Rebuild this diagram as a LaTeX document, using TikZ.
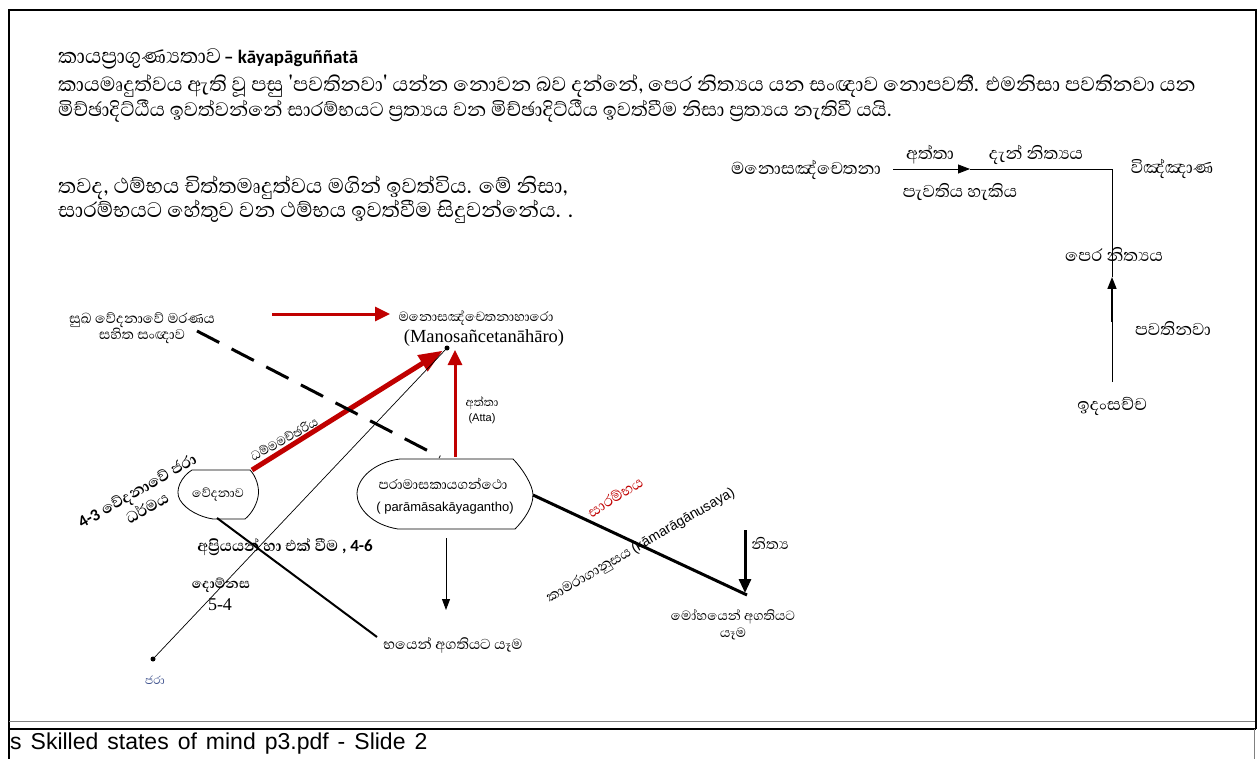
\documentclass[tikz,border=0pt]{standalone}
\usepackage{fontspec}
\setmainfont{Liberation Sans}
\newfontfamily\sinfont[Script=Sinhala]{Abhaya Libre}
\newfontfamily\calib{Carlito}
\newfontfamily\tms{Liberation Serif}
\usetikzlibrary{arrows.meta}
\definecolor{dred}{RGB}{192,0,0}
\definecolor{jblue}{RGB}{60,80,140}
\newcommand{\sz}[2]{\fontsize{#1}{#2}\selectfont}
\tikzset{
  every node/.style={inner sep=0pt},
  para/.style={anchor=west,font=\sinfont\sz{26}{30}},
  lbl/.style={font=\sinfont\sz{22}{26}},
  slbl/.style={font=\sinfont\sz{18}{15},align=center},
  blbl/.style={font=\sinfont\bfseries\sz{20}{20},align=center},
  redarrow/.style={dred,line width=3pt,-{Triangle[length=15pt,width=14pt]}},
  dotnode/.style={circle,fill=black,minimum size=5pt},
}
\begin{document}
\begin{tikzpicture}[x=1pt,y=-1pt]
\useasboundingbox (0,0) rectangle (1258,759);
% frame
\draw[line width=2pt] (8.5,759) -- (8.5,10.5) -- (1255.5,10.5) -- (1255.5,729);
\draw[gray,line width=1pt] (9,721) -- (1255,721);
\draw[line width=2pt] (8,729) -- (1256,729);
\draw[gray,line width=1pt] (1254,729) -- (1254,759);
\node[anchor=west,font=\sz{23}{26}] (foot) at (10,744) {\spaceskip=9pt s Skilled states of mind p3.pdf - Slide 2};

% title and paragraphs
\node[anchor=west] (title) at (58,59) {{\sinfont\sz{27}{30}කායප්‍රාගුණ්‍යතාව} {\calib\bfseries\sz{19}{22}– kāyapāguññatā}};
\node[para] (p1) at (58,86) {කායමෘදුත්වය ඇති වූ පසු 'පවතිනවා' යන්න නොවන බව දන්නේ, පෙර නිත්‍යය යන සංඥාව නොපවතී. එමනිසා පවතිනවා යන};
\node[para,font=\sinfont\sz{25}{30}] (p2) at (58,111) {මිච්ඡාදිට්ඨීය ඉවත්වන්නේ සාරම්භයට ප්‍රත්‍යය වන මිච්ඡාදිට්ඨීය ඉවත්වීම නිසා ප්‍රත්‍යය නැතිවී යයි.};
\node[para,font=\sinfont\sz{27}{30}] (p3) at (58,188) {තවද, ථම්භය චිත්තමෘදුත්වය මගින් ඉවත්විය. මේ නිසා,};
\node[para,font=\sinfont\sz{27}{30}] (p4) at (58,212) {සාරම්භයට හේතුව වන ථම්භය ඉවත්වීම සිදුවන්නේය. .};

% right diagram
\node[lbl] (mano) at (806,170) {මනොසඤ්චෙතනා};
\node[lbl] (atta1) at (930,155) {අත්තා};
\node[lbl] (dan) at (1036,155) {දැන් නිත්‍යය};
\node[lbl] (paev) at (960,192) {පැවතිය හැකිය};
\node[lbl] (vinn) at (1172,169) {විඤ්ඤාණ};
\node[lbl] (pera) at (1114,254) {පෙර නිත්‍යය};
\node[lbl] (pava) at (1173,328) {පවතිනවා};
\node[lbl] (idam) at (1112,406) {ඉදංසච්ච};
\coordinate (h1) at (893,169);
\coordinate (hm) at (970,169);
\coordinate (corner) at (1112,169);
\coordinate (vb) at (1112,382);
\coordinate (vm) at (1112,322);
\coordinate (va) at (1112,277);
\draw[line width=0.8pt,-{Triangle[length=12pt,width=9pt]}] (h1) -- (hm);
\draw[line width=0.8pt] (hm) -- (corner) -- (va);
\draw[line width=0.8pt] (vb) -- (vm);
\draw[line width=1.6pt,-{Triangle[length=12pt,width=9pt]}] (vm) -- (va);

% left diagram: nodes
\node[slbl] (sukha) at (142,328) {සුඛ වේදනාවේ මරණය\\සහිත සංඥාව};
\node[font=\sinfont\sz{17}{20}] (manoh) at (476,318) {මනොසඤ්චෙතනාහාරො};
\node[font=\tms\sz{18.5}{20}] (manol) at (484,338) {(Manosañcetanāhāro)};
\node[dotnode] (M) at (447,348) {};
\node[dotnode] (J) at (153,659) {};
\node[font=\sinfont\sz{14.5}{16},text=jblue] (jara) at (155,680) {ජරා};

% vedanava shape
\draw[line width=0.8pt] (192,470) -- (250,470) .. controls (256,476) and (260,488) .. (258,497)
  .. controls (256,507) and (250,515) .. (245,519) -- (213,519)
  .. controls (200,517) and (186,510) .. (180,500) .. controls (174,490) and (182,476) .. (192,470);
\node[font=\sinfont\sz{16}{18}] (veda) at (218,495) {වේදනාව};
\coordinate (vedTR) at (252,470);
\coordinate (vedB) at (217,518);

% paramasa shape
\draw[line width=0.8pt] (400,459) -- (513,459) .. controls (522,468) and (533,485) .. (533,495)
  .. controls (533,507) and (524,520) .. (515,529) -- (398,529)
  .. controls (372,525) and (357,508) .. (357,494) .. controls (357,478) and (375,462) .. (400,459);
\node[font=\sinfont\sz{17.5}{20}] (param) at (443,484) {පරාමාසකායගන්ථො};
\node[font=\sz{13}{16}] (paraml) at (445,508) {( parāmāsakāyagantho)};
\coordinate (parTop) at (455,457);
\coordinate (parTL) at (440,457);
\coordinate (parR) at (533,495);
\coordinate (parB) at (446,538);

% other coordinates
\coordinate (r1s) at (272,314);
\coordinate (r1e) at (390,314);
\coordinate (dashS) at (197,331);
\coordinate (mohaP) at (747,595);
\coordinate (nitS) at (745,530);
\coordinate (nitE) at (745,593);
\coordinate (bhayP) at (377,637);
\coordinate (arrE) at (446,610);
\coordinate (attaE) at (455,348);

% connectors
\draw[redarrow] (r1s) -- (r1e);
\draw[dred,line width=5pt,-{Triangle[length=24pt,width=18pt]},shorten >=5pt] (vedTR) -- (M.center);
\draw[redarrow,shorten >=2pt] (parTop) -- (attaE);
\draw[line width=0.7pt] (J.center) -- (M.center);
\draw[line width=3pt,dash pattern=on 25pt off 14pt] (dashS) -- (parTL);
\draw[line width=3pt] (parR) -- (mohaP);
\draw[line width=3pt,-{Triangle[length=14pt,width=12pt]}] (nitS) -- (nitE);
\draw[line width=0.9pt,-{Triangle[length=11pt,width=8pt]}] (parB) -- (arrE);
\draw[line width=2pt] (vedB) -- (bhayP);

% labels
\node[font=\sinfont\sz{15}{16}] (atta2) at (482,403) {අත්තා};
\node[font=\sz{11}{12}] (attal) at (482,419) {(Atta)};
\node[font=\sinfont\sz{16}{18},rotate=29] (dhamma) at (284,439) {ධම්මමච්ඡරිය};
\node[blbl,rotate=30] (jaral) at (142,499) {{\calib\bfseries\sz{17}{20}4-3} වේදනාවේ ජරා\\ධර්මය};
\node[blbl] (apri) at (285,547) {අප්‍රියයන් හා එක් වීම {\calib\bfseries\sz{17}{20}, 4-6}};
\node[font=\sinfont\bfseries\sz{17.5}{20}] (domn) at (221,585) {දොම්නස};
\node[font=\tms\sz{18}{20}] (d54) at (220,605) {5-4};
\node[font=\sinfont\sz{18.5}{20}] (bhay) at (453,645) {භයෙන් අගතියට යෑම};
\node[font=\sinfont\sz{19}{20},text=dred,rotate=32] (sara) at (615,497) {සාරම්භය};
\node[rotate=30] (kama) at (641,546) {{\sinfont\sz{18}{20}කාමරාගානුසය} {\sz{14}{16}(kāmarāgānusaya)}};
\node[font=\sinfont\sz{19}{20}] (nit) at (770,543) {නිත්‍ය};
\node[font=\sinfont\sz{17}{17},align=center] (moha) at (733,625) {මෝහයෙන් අගතියට\\යෑම};
\end{tikzpicture}
\end{document}
